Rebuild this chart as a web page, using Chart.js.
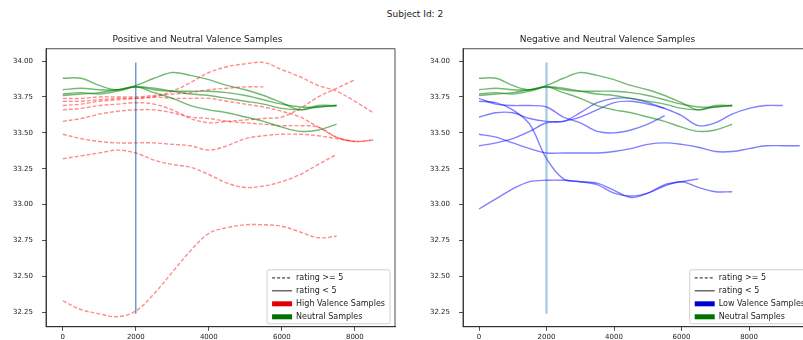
<!DOCTYPE html>
<html>
<head>
<meta charset="utf-8">
<script src="https://cdn.jsdelivr.net/npm/chart.js@4.4.0/dist/chart.umd.min.js"></script>
<style>
  html, body { margin: 0; padding: 0; background: #fff; overflow: hidden; }
  body { width: 803px; height: 340px; position: relative; }
  #suptitle { position: absolute; top: 9px; left: 315px; width: 200px; text-align: center;
              font: 9px "DejaVu Sans"; color: #222; }
  #leftBox { position: absolute; left: 0; top: 0; width: 400px; height: 340px; }
  #rightBox { position: absolute; left: 400px; top: 0; width: 420px; height: 340px; }
</style>
</head>
<body>
<div id="suptitle">Subject Id: 2</div>
<div id="leftBox"><canvas id="positive" width="400" height="340"></canvas></div>
<div id="rightBox"><canvas id="negative" width="420" height="340"></canvas></div>
<script>
// sample index shared by every curve
var sampleIdx = [0, 500, 1000, 1500, 2000, 2500, 3000, 3500, 4000, 4500,
                 5000, 5500, 6000, 6500, 7000, 7500, 8000, 8500, 9000, 9500];

var yTicks = [32.25, 32.50, 32.75, 33.00, 33.25, 33.50, 33.75, 34.00];
var xTicks = [0, 2000, 4000, 6000, 8000];

// neutral samples (both panels)
var neutral1 = [33.88,33.88,33.83,33.80,33.83,33.88,33.92,33.90,33.87,33.83,33.80,33.76,33.71,33.66,33.69,33.69,null,null,null,null];
var neutral2 = [33.80,33.81,33.80,33.80,33.82,33.80,33.79,33.79,33.79,33.78,33.76,33.73,33.70,33.68,33.68,33.69,null,null,null,null];
var neutral3 = [33.76,33.77,33.78,33.80,33.82,33.78,33.74,33.69,33.66,33.64,33.61,33.58,33.54,33.51,33.52,33.56,null,null,null,null];
var neutral4 = [33.77,33.78,33.77,33.79,33.82,33.81,33.79,33.77,33.76,33.74,33.72,33.70,33.67,33.66,33.68,33.69,null,null,null,null];

// high valence samples (rating >= 5)
var high1 = [33.69,33.70,33.72,33.73,33.74,33.75,33.79,33.85,33.92,33.96,33.98,33.99,33.94,33.89,33.83,33.79,33.72,33.64,null,null];
var high2 = [33.74,33.74,33.75,33.75,33.75,33.76,33.77,33.78,33.80,33.81,33.82,33.82,null,null,null,null,null,null,null,null];
var high3 = [33.72,33.72,33.73,33.74,33.74,33.75,33.74,33.74,33.74,33.72,33.70,33.68,33.65,33.61,33.54,33.47,33.44,33.45,null,null];
var high4 = [33.66,33.67,33.69,33.70,33.71,33.70,33.66,33.60,33.57,33.58,33.59,33.60,33.61,33.67,33.75,33.81,33.87,null,null,null];
var high5 = [33.58,33.60,33.63,33.65,33.66,33.66,33.64,33.61,33.60,33.58,33.57,33.56,33.55,33.55,33.54,33.47,33.44,33.45,null,null];
var high6 = [33.49,33.46,33.44,33.43,33.43,33.43,33.42,33.41,33.38,33.41,33.46,33.48,33.49,33.49,33.48,33.46,33.44,null,null,null];
var high7 = [33.32,33.34,33.36,33.38,33.36,33.31,33.28,33.26,33.21,33.15,33.12,33.13,33.16,33.21,33.28,33.35,null,null,null,null];
var high8 = [32.33,32.27,32.24,32.22,32.26,32.38,32.53,32.68,32.80,32.84,32.86,32.86,32.85,32.81,32.77,32.78,null,null,null,null];

// low valence samples (rating < 5)
var low1 = [33.72,33.71,33.66,33.56,33.32,33.18,33.16,33.14,33.08,33.06,33.08,33.13,33.16,33.12,33.09,33.09,null,null,null,null];
var low2 = [32.97,33.04,33.11,33.16,33.17,33.17,33.16,33.15,33.10,33.05,33.08,33.14,33.16,33.18,null,null,null,null,null,null];
var low3 = [33.74,33.70,33.69,33.69,33.68,33.61,33.57,33.51,33.50,33.52,33.56,33.62,null,null,null,null,null,null,null,null];
var low4 = [33.61,33.64,33.64,33.60,33.58,33.58,33.64,33.71,33.74,33.74,33.71,33.67,33.62,33.55,33.57,33.63,33.67,33.69,33.69,null];
var low5 = [33.49,33.47,33.43,33.39,33.36,33.36,33.36,33.36,33.37,33.39,33.42,33.43,33.42,33.40,33.37,33.37,33.39,33.41,33.41,33.41];
var low6 = [33.41,33.43,33.46,33.51,33.57,33.58,33.61,33.66,33.71,33.72,33.70,33.67,null,null,null,null,null,null,null,null];

// vertical marker
var markerX = 2000;
var markerSpan = [32.24, 33.99];

Chart.defaults.font.family = '"DejaVu Sans", sans-serif';
Chart.defaults.color = '#222';

function toPoints(ys) {
  return sampleIdx.map(function (x, i) { return { x: x, y: ys[i] }; })
                  .filter(function (p) { return p.y !== null; });
}

function curve(ys, color, dashed) {
  return {
    data: toPoints(ys),
    borderColor: color,
    borderWidth: 1.4,
    borderDash: dashed ? [4, 2] : [],
    pointRadius: 0,
    tension: 0.35,
    fill: false
  };
}

function marker(color, width) {
  return {
    data: markerSpan.map(function (y) { return { x: markerX, y: y }; }),
    borderColor: color,
    borderWidth: width,
    pointRadius: 0,
    tension: 0
  };
}

// frame round the axes + matplotlib style legend in the lower right
var frameLegend = {
  id: 'frameLegend',
  afterDraw: function (chart, args, opts) {
    var ctx = chart.ctx, a = chart.chartArea;
    ctx.save();
    ctx.strokeStyle = '#222';
    ctx.lineWidth = 0.8;
    ctx.strokeRect(a.left, a.top, a.right - a.left, a.bottom - a.top);

    var items = opts.items;
    ctx.font = '8px "DejaVu Sans"';
    var maxW = 0;
    items.forEach(function (it) { maxW = Math.max(maxW, ctx.measureText(it.label).width); });
    var w = 5 + 20 + 4 + maxW + 5;
    var h = items.length * 13 + 2;
    var right = a.right - 5, bottom = a.bottom - 3;
    var left = right - w, top = bottom - h;
    ctx.fillStyle = 'rgba(255,255,255,0.85)';
    ctx.strokeStyle = '#d0d0d0';
    ctx.lineWidth = 1;
    ctx.beginPath();
    ctx.roundRect(left, top, w, h, 2);
    ctx.fill();
    ctx.stroke();

    items.forEach(function (it, i) {
      var cy = top + 8 + i * 13;
      var hx = left + 5;
      if (it.type === 'patch') {
        ctx.fillStyle = it.color;
        ctx.fillRect(hx, cy - 2.5, 20, 5);
      } else {
        ctx.strokeStyle = '#444';
        ctx.lineWidth = 1.2;
        ctx.setLineDash(it.type === 'dash' ? [3, 2] : []);
        ctx.beginPath();
        ctx.moveTo(hx, cy);
        ctx.lineTo(hx + 20, cy);
        ctx.stroke();
        ctx.setLineDash([]);
      }
      ctx.fillStyle = '#222';
      ctx.textBaseline = 'middle';
      ctx.textAlign = 'left';
      ctx.fillText(it.label, hx + 24, cy);
    });
    ctx.restore();
  }
};

function makeChart(id, title, datasets, xMin, xMax, yAxisWidth, legendItems) {
  return new Chart(document.getElementById(id), {
    type: 'line',
    data: { datasets: datasets },
    plugins: [frameLegend],
    options: {
      responsive: false,
      animation: false,
      layout: { padding: { left: 0, right: 5, top: 0, bottom: 0 } },
      plugins: {
        legend: { display: false },
        tooltip: { enabled: false },
        title: {
          display: true,
          text: title,
          font: { size: 9, weight: 'normal' },
          color: '#222',
          padding: { top: 34, bottom: 4 }
        },
        frameLegend: { items: legendItems }
      },
      scales: {
        x: {
          type: 'linear',
          min: xMin,
          max: xMax,
          afterBuildTicks: function (s) { s.ticks = xTicks.map(function (v) { return { value: v }; }); },
          afterFit: function (s) { s.height = 13; },
          grid: { display: true, drawOnChartArea: false, drawTicks: true, tickLength: 4, color: '#222', lineWidth: 0.8 },
          border: { display: true, color: '#222', width: 0.8 },
          ticks: { font: { size: 7 }, padding: 2, maxRotation: 0, color: '#222',
                   callback: function (v) { return String(v); } }
        },
        y: {
          min: 32.15,
          max: 34.085,
          afterBuildTicks: function (s) { s.ticks = yTicks.map(function (v) { return { value: v }; }); },
          afterFit: function (s) { s.width = yAxisWidth; },
          grid: { display: true, drawOnChartArea: false, drawTicks: true, tickLength: 4, color: '#222', lineWidth: 0.8 },
          border: { display: true, color: '#222', width: 0.8 },
          ticks: { font: { size: 7 }, padding: 9, color: '#222',
                   callback: function (v) { return Number(v).toFixed(2); } }
        }
      }
    }
  });
}

var red = 'rgba(255,0,0,0.45)';
var green = 'rgba(0,128,0,0.55)';
var blue = 'rgba(0,0,255,0.5)';
var neutralSets = [neutral1, neutral2, neutral3, neutral4];

var leftSets = [marker('rgba(31,100,160,0.8)', 1.2)]
  .concat(neutralSets.map(function (s) { return curve(s, green, false); }))
  .concat([high1, high2, high3, high4, high5, high6, high7, high8].map(function (s) { return curve(s, red, true); }));

var rightSets = [marker('rgba(31,119,180,0.4)', 2.2)]
  .concat(neutralSets.map(function (s) { return curve(s, green, false); }))
  .concat([low1, low2, low3, low4, low5, low6].map(function (s) { return curve(s, blue, false); }));

makeChart('positive', 'Positive and Neutral Valence Samples', leftSets, -460, 9100, 46, [
  { type: 'dash', label: 'rating >= 5' },
  { type: 'line', label: 'rating < 5' },
  { type: 'patch', color: '#e00000', label: 'High Valence Samples' },
  { type: 'patch', color: '#007000', label: 'Neutral Samples' }
]);

makeChart('negative', 'Negative and Neutral Valence Samples', rightSets, -474, 9954, 63, [
  { type: 'dash', label: 'rating >= 5' },
  { type: 'line', label: 'rating < 5' },
  { type: 'patch', color: '#0000d0', label: 'Low Valence Samples' },
  { type: 'patch', color: '#007000', label: 'Neutral Samples' }
]);
</script>
</body>
</html>
